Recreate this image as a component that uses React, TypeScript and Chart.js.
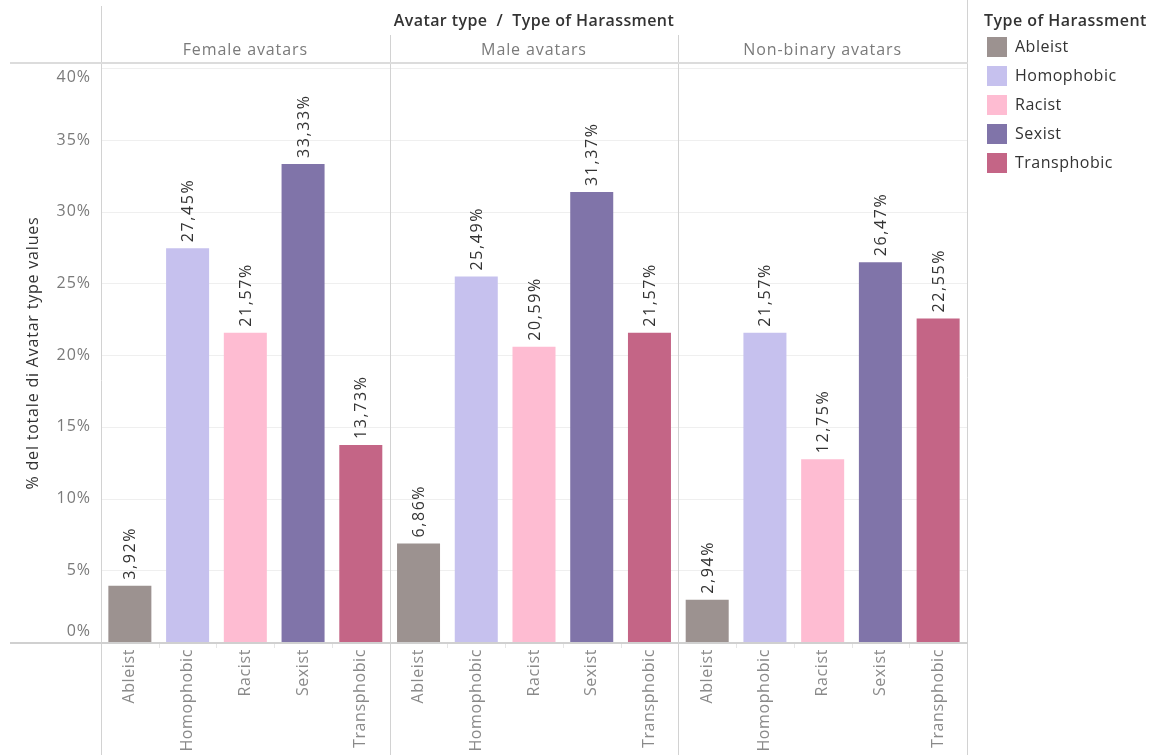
import React, { useEffect, useRef } from "react";
import { Chart, registerables } from "chart.js";

Chart.register(...registerables);

// Facets (avatar types) and categories (harassment types)
const avatarTypes = ["Female avatars", "Male avatars", "Non-binary avatars"];
const harassmentTypes = ["Ableist", "Homophobic", "Racist", "Sexist", "Transphobic"];

// Share of each harassment type within an avatar type (%)
const femaleValues = [3.92, 27.45, 21.57, 33.33, 13.73];
const maleValues = [6.86, 25.49, 20.59, 31.37, 21.57];
const nonBinaryValues = [2.94, 21.57, 12.75, 26.47, 22.55];

const harassmentColors = ["#9c9290", "#c6c1ee", "#febcd2", "#8074a9", "#c46586"];

const yTicks = [0, 5, 10, 15, 20, 25, 30, 35, 40];
const yMax = 40.3;

const headerTitle = "Avatar type  /  Type of Harassment";
const yAxisTitle = "% del totale di Avatar type values";
const legendTitle = "Type of Harassment";

const FONT = '"Open Sans", sans-serif';
const W = 1151;
const H = 755;

const fmtPct = (v: number) => v.toFixed(2).replace(".", ",") + "%";

function setFont(ctx: any, font: string, spacing: number) {
  ctx.font = font;
  ctx.letterSpacing = `${spacing}px`;
}

const facetPlugin = {
  id: "facetDecor",
  beforeDatasetsDraw(chart: any) {
    const { ctx, chartArea } = chart;
    const y = chart.scales.y;
    ctx.save();
    ctx.strokeStyle = "#efefef";
    ctx.lineWidth = 1;
    yTicks.forEach((t) => {
      if (t === 0) return;
      const py = Math.round(y.getPixelForValue(t)) + 0.5;
      ctx.beginPath();
      ctx.moveTo(chartArea.left, py);
      ctx.lineTo(chartArea.right, py);
      ctx.stroke();
    });
    ctx.restore();
  },
  afterDatasetsDraw(chart: any) {
    const { ctx, chartArea } = chart;
    const y = chart.scales.y;
    const meta = chart.getDatasetMeta(0);
    const nCat = harassmentTypes.length;
    const total = avatarTypes.length * nCat;
    const slot = (chartArea.right - chartArea.left) / total;
    const panelW = slot * nCat;
    const zeroY = Math.round(y.getPixelForValue(0));

    ctx.save();

    // value labels above bars
    ctx.fillStyle = "#333333";
    setFont(ctx, `16px ${FONT}`, 1.6);
    ctx.textAlign = "left";
    ctx.textBaseline = "middle";
    meta.data.forEach((el: any, i: number) => {
      const v = chart.data.datasets[0].data[i] as number;
      ctx.save();
      ctx.translate(el.x + 1, el.y - 6);
      ctx.rotate(-Math.PI / 2);
      ctx.fillText(fmtPct(v), 0, 0);
      ctx.restore();
    });

    // category labels below the axis
    ctx.fillStyle = "#8a8a8a";
    setFont(ctx, `16px ${FONT}`, 0.6);
    ctx.textAlign = "right";
    meta.data.forEach((el: any, i: number) => {
      ctx.save();
      ctx.translate(el.x, zeroY + 7);
      ctx.rotate(-Math.PI / 2);
      ctx.fillText(harassmentTypes[i % nCat], 0, 0);
      ctx.restore();
    });

    // small tick marks between categories
    ctx.strokeStyle = "#e6e6e6";
    ctx.lineWidth = 1;
    for (let i = 1; i < total; i++) {
      if (i % nCat === 0) continue;
      const px = Math.round(chartArea.left + slot * i) + 0.5;
      ctx.beginPath();
      ctx.moveTo(px, zeroY + 1);
      ctx.lineTo(px, zeroY + 6);
      ctx.stroke();
    }

    // y tick labels
    ctx.fillStyle = "#7a7a7a";
    setFont(ctx, `16px ${FONT}`, 1);
    ctx.textAlign = "right";
    ctx.textBaseline = "middle";
    yTicks.forEach((t, idx) => {
      let py = y.getPixelForValue(t);
      if (idx === 0) py -= 11;
      if (idx === yTicks.length - 1) py += 9;
      ctx.fillText(`${t}%`, chartArea.left - 10, py);
    });

    // y axis title
    ctx.save();
    ctx.fillStyle = "#333333";
    setFont(ctx, `16px ${FONT}`, 0.8);
    ctx.textAlign = "center";
    ctx.translate(33, (chartArea.top + zeroY) / 2);
    ctx.rotate(-Math.PI / 2);
    ctx.fillText(yAxisTitle, 0, 0);
    ctx.restore();

    // panel borders
    ctx.strokeStyle = "#d2d2d2";
    ctx.lineWidth = 1;
    for (let k = 0; k <= avatarTypes.length; k++) {
      const px = Math.round(chartArea.left + panelW * k) + 0.5;
      const top = k === 0 ? 6 : k === avatarTypes.length ? 0 : 35;
      ctx.beginPath();
      ctx.moveTo(px, top);
      ctx.lineTo(px, H);
      ctx.stroke();
    }

    // header separator and zero line
    ctx.strokeStyle = "#dcdcdc";
    ctx.lineWidth = 2;
    ctx.beginPath();
    ctx.moveTo(10, chartArea.top - 1);
    ctx.lineTo(chartArea.right + 1, chartArea.top - 1);
    ctx.stroke();
    ctx.strokeStyle = "#d0d0d0";
    ctx.beginPath();
    ctx.moveTo(10, zeroY + 1);
    ctx.lineTo(chartArea.right + 1, zeroY + 1);
    ctx.stroke();

    // headers
    ctx.textAlign = "center";
    ctx.textBaseline = "middle";
    ctx.fillStyle = "#333333";
    setFont(ctx, `600 16px ${FONT}`, 0.4);
    ctx.fillText(headerTitle, (chartArea.left + chartArea.right) / 2, 21);
    ctx.fillStyle = "#7a7a7a";
    setFont(ctx, `16px ${FONT}`, 0.9);
    avatarTypes.forEach((name, k) => {
      ctx.fillText(name, chartArea.left + panelW * (k + 0.5), 50);
    });

    // legend
    ctx.textAlign = "left";
    ctx.fillStyle = "#333333";
    setFont(ctx, `600 16px ${FONT}`, 0.45);
    ctx.fillText(legendTitle, 984, 21);
    setFont(ctx, `16px ${FONT}`, 0.5);
    harassmentTypes.forEach((name, i) => {
      const top = 37 + i * 29;
      ctx.fillStyle = harassmentColors[i];
      ctx.fillRect(987, top, 20, 20);
      ctx.fillStyle = "#333333";
      ctx.fillText(name, 1015, top + 10);
    });

    ctx.restore();
  },
};

export default function App() {
  const canvasRef = useRef<HTMLCanvasElement | null>(null);

  useEffect(() => {
    const canvas = canvasRef.current;
    if (!canvas) return;
    const values = [...femaleValues, ...maleValues, ...nonBinaryValues];
    const labels = avatarTypes.flatMap((a) => harassmentTypes.map((h) => `${a} – ${h}`));
    const colors = avatarTypes.flatMap(() => harassmentColors);

    const chart = new Chart(canvas, {
      type: "bar",
      data: {
        labels,
        datasets: [
          {
            data: values,
            backgroundColor: colors,
            borderWidth: 0,
            barPercentage: 0.745,
            categoryPercentage: 1,
          },
        ],
      },
      options: {
        responsive: false,
        devicePixelRatio: 1,
        animation: false,
        layout: { padding: { left: 101, right: W - 967, top: 64, bottom: H - 642 } },
        plugins: { legend: { display: false }, tooltip: { enabled: false }, title: { display: false } },
        scales: {
          x: { display: false },
          y: { display: false, min: 0, max: yMax },
        },
      },
      plugins: [facetPlugin],
    });
    return () => chart.destroy();
  }, []);

  return (
    <div style={{ position: "absolute", left: 0, top: 0, width: W, height: H, background: "#ffffff" }}>
      <canvas ref={canvasRef} width={W} height={H} style={{ display: "block" }} />
    </div>
  );
}
